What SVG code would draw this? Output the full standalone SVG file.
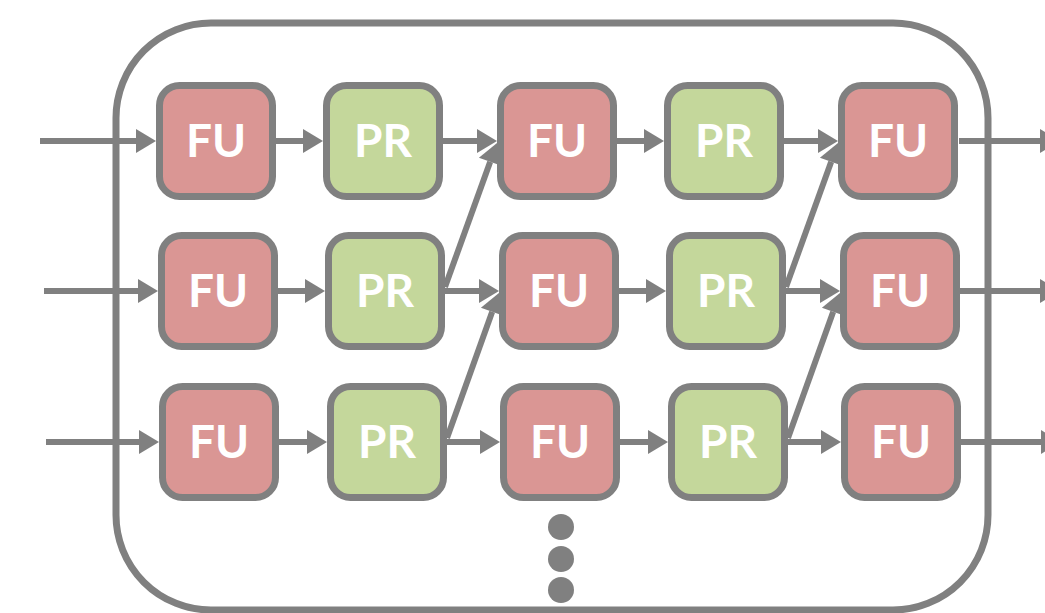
<svg xmlns="http://www.w3.org/2000/svg" width="1045" height="613" viewBox="0 0 1045 613">
<defs>
<marker id="ah" markerUnits="userSpaceOnUse" markerWidth="22" markerHeight="24" refX="0" refY="12" orient="auto" overflow="visible">
<path d="M0,0 L20,12 L0,24 Z" fill="#808080"/>
</marker>
<style>
.box{stroke:#808080;stroke-width:7}
.fu{fill:#DA9694}
.pr{fill:#C4D79B}
.t{fill:#FFFFFF;font-family:Lato,"Open Sans",sans-serif;font-weight:bold;font-size:46px;text-anchor:middle}
.c{stroke:#808080;stroke-width:6;fill:none;marker-end:url(#ah)}
</style>
</defs>
<rect id="container" x="116" y="23" width="872" height="587" rx="95" ry="95" fill="#FFFFFF" stroke="#808080" stroke-width="7"/>
<g id="connectors">
<line class="c" x1="40" y1="141" x2="136" y2="141"/>
<line class="c" x1="276" y1="141" x2="303" y2="141"/>
<line class="c" x1="443" y1="141" x2="477" y2="141"/>
<line class="c" x1="617" y1="141" x2="644" y2="141"/>
<line class="c" x1="784" y1="141" x2="818" y2="141"/>
<line class="c" x1="959" y1="141" x2="1040" y2="141"/>
<line class="c" x1="44" y1="291" x2="138" y2="291"/>
<line class="c" x1="278" y1="291" x2="305" y2="291"/>
<line class="c" x1="445" y1="291" x2="479" y2="291"/>
<line class="c" x1="619" y1="291" x2="646" y2="291"/>
<line class="c" x1="786" y1="291" x2="820" y2="291"/>
<line class="c" x1="960" y1="291" x2="1040" y2="291"/>
<line class="c" x1="46" y1="442" x2="139" y2="442"/>
<line class="c" x1="279" y1="442" x2="307" y2="442"/>
<line class="c" x1="447" y1="442" x2="480" y2="442"/>
<line class="c" x1="620" y1="442" x2="648" y2="442"/>
<line class="c" x1="788" y1="442" x2="821" y2="442"/>
<line class="c" x1="961" y1="442" x2="1041" y2="442"/>
<line class="c" x1="445" y1="287" x2="490.2" y2="161.8"/>
<line class="c" x1="447" y1="438" x2="492.2" y2="311.8"/>
<line class="c" x1="786" y1="287" x2="831.2" y2="161.8"/>
<line class="c" x1="788" y1="438" x2="833.2" y2="311.8"/>
</g>
<g id="fu-1-1"><rect class="box fu" x="159.5" y="85.5" width="113" height="111" rx="20"/><text class="t" x="216" y="157">FU</text></g>
<g id="pr-1-2"><rect class="box pr" x="326.5" y="85.5" width="113" height="111" rx="20"/><text class="t" x="383" y="157">PR</text></g>
<g id="fu-1-3"><rect class="box fu" x="500.5" y="85.5" width="113" height="111" rx="20"/><text class="t" x="557" y="157">FU</text></g>
<g id="pr-1-4"><rect class="box pr" x="667.5" y="85.5" width="113" height="111" rx="20"/><text class="t" x="724" y="157">PR</text></g>
<g id="fu-1-5"><rect class="box fu" x="841.5" y="85.5" width="113" height="111" rx="20"/><text class="t" x="898" y="157">FU</text></g>
<g id="fu-2-1"><rect class="box fu" x="161.5" y="235.5" width="113" height="111" rx="20"/><text class="t" x="218" y="307">FU</text></g>
<g id="pr-2-2"><rect class="box pr" x="328.5" y="235.5" width="113" height="111" rx="20"/><text class="t" x="385" y="307">PR</text></g>
<g id="fu-2-3"><rect class="box fu" x="502.5" y="235.5" width="113" height="111" rx="20"/><text class="t" x="559" y="307">FU</text></g>
<g id="pr-2-4"><rect class="box pr" x="669.5" y="235.5" width="113" height="111" rx="20"/><text class="t" x="726" y="307">PR</text></g>
<g id="fu-2-5"><rect class="box fu" x="843.5" y="235.5" width="113" height="111" rx="20"/><text class="t" x="900" y="307">FU</text></g>
<g id="fu-3-1"><rect class="box fu" x="162.5" y="386.5" width="113" height="111" rx="20"/><text class="t" x="219" y="458">FU</text></g>
<g id="pr-3-2"><rect class="box pr" x="330.5" y="386.5" width="113" height="111" rx="20"/><text class="t" x="387" y="458">PR</text></g>
<g id="fu-3-3"><rect class="box fu" x="503.5" y="386.5" width="113" height="111" rx="20"/><text class="t" x="560" y="458">FU</text></g>
<g id="pr-3-4"><rect class="box pr" x="671.5" y="386.5" width="113" height="111" rx="20"/><text class="t" x="728" y="458">PR</text></g>
<g id="fu-3-5"><rect class="box fu" x="844.5" y="386.5" width="113" height="111" rx="20"/><text class="t" x="901" y="458">FU</text></g>
<g id="dots" fill="#808080">
<circle cx="561" cy="527" r="13"/>
<circle cx="561" cy="559" r="13"/>
<circle cx="561" cy="590" r="13"/>
</g>
</svg>
